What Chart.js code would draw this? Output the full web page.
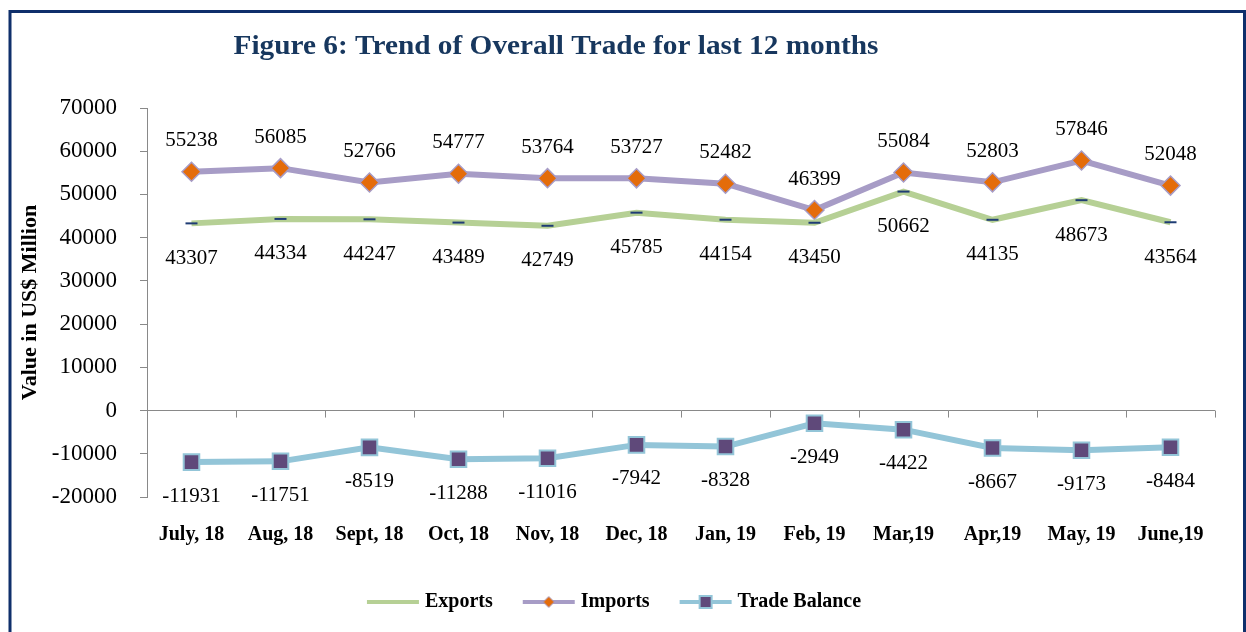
<!DOCTYPE html>
<html>
<head>
<meta charset="utf-8">
<title>Figure 6: Trend of Overall Trade for last 12 months</title>
<script src="https://cdn.jsdelivr.net/npm/chart.js@4.4.0/dist/chart.umd.min.js"></script>
<style>
    html, body { margin: 0; padding: 0; background: #fff; }
    canvas { display: block; }
</style>
</head>
<body>
<canvas id="tradeChart" width="1246" height="632"></canvas>
<script>
// Chart data
const months = ['July, 18', 'Aug, 18', 'Sept, 18', 'Oct, 18', 'Nov, 18', 'Dec, 18',
                'Jan, 19', 'Feb, 19', 'Mar,19', 'Apr,19', 'May, 19', 'June,19'];
const exportsData = [43307, 44334, 44247, 43489, 42749, 45785, 44154, 43450, 50662, 44135, 48673, 43564];
const importsData = [55238, 56085, 52766, 54777, 53764, 53727, 52482, 46399, 55084, 52803, 57846, 52048];
const balanceData = [-11931, -11751, -8519, -11288, -11016, -7942, -8328, -2949, -4422, -8667, -9173, -8484];
const yMin = -20000;
const yMax = 70000;
const yStep = 10000;

const titleText = 'Figure 6: Trend of Overall Trade for last 12 months';
const yTitleText = 'Value in US$ Million';

const SERIF = "'Liberation Serif', 'Times New Roman', serif";
const GREEN = '#b6d095';
const LAVENDER = '#a79cc6';
const ORANGE = '#e46c0a';
const SKY = '#93c5d8';
const PLUM = '#5f497a';
const NAVY = '#17375e';
const AXIS = '#898989';

// Legend swatch: a short line with the series marker in the middle
function legendSwatch(lineColor, marker) {
    const c = document.createElement('canvas');
    c.width = 56;
    c.height = 16;
    const g = c.getContext('2d');
    g.strokeStyle = lineColor;
    g.lineWidth = 4;
    g.beginPath();
    g.moveTo(2, 8);
    g.lineTo(54, 8);
    g.stroke();
    if (marker === 'diamond') {
        g.fillStyle = ORANGE;
        g.strokeStyle = LAVENDER;
        g.lineWidth = 1;
        g.beginPath();
        g.moveTo(28, 2.5);
        g.lineTo(33.5, 8);
        g.lineTo(28, 13.5);
        g.lineTo(22.5, 8);
        g.closePath();
        g.fill();
        g.stroke();
    } else if (marker === 'square') {
        g.fillStyle = PLUM;
        g.strokeStyle = SKY;
        g.lineWidth = 2;
        g.fillRect(22, 2, 12, 12);
        g.strokeRect(22, 2, 12, 12);
    }
    return c;
}

const swatches = [
    legendSwatch(GREEN, null),
    legendSwatch(LAVENDER, 'diamond'),
    legendSwatch(SKY, 'square')
];

// Frame, title and x tick marks on the zero line
const decorPlugin = {
    id: 'decor',
    beforeDraw(chart) {
        const ctx = chart.ctx;
        ctx.save();
        ctx.strokeStyle = '#0f2f6b';
        ctx.lineWidth = 3;
        ctx.strokeRect(10, 11.5, 1234.5, 800);
        ctx.fillStyle = NAVY;
        ctx.font = 'bold 27px ' + SERIF;
        ctx.textAlign = 'center';
        ctx.textBaseline = 'middle';
        // the original title runs a little wider than the font
        const w = ctx.measureText(titleText).width;
        ctx.translate(556, 47);
        ctx.scale(645 / w, 1);
        ctx.fillText(titleText, 0, 0);
        ctx.restore();
    },
    beforeDatasetsDraw(chart) {
        const ctx = chart.ctx;
        const x = chart.scales.x;
        const y0 = chart.scales.y.getPixelForValue(0);
        const band = x.width / months.length;
        ctx.save();
        ctx.strokeStyle = AXIS;
        ctx.lineWidth = 1;
        ctx.beginPath();
        for (let i = 0; i <= months.length; i++) {
            const px = Math.round(x.left + i * band) + 0.5;
            ctx.moveTo(px, y0);
            ctx.lineTo(px, y0 + 7);
        }
        ctx.stroke();
        ctx.restore();
    }
};

// Value labels next to every point
const valueLabelPlugin = {
    id: 'valueLabels',
    afterDatasetsDraw(chart) {
        const ctx = chart.ctx;
        const offsets = [35, -31, 34];
        ctx.save();
        ctx.font = '21px ' + SERIF;
        ctx.fillStyle = '#000';
        ctx.textAlign = 'center';
        ctx.textBaseline = 'middle';
        chart.data.datasets.forEach((ds, i) => {
            chart.getDatasetMeta(i).data.forEach((pt, j) => {
                ctx.fillText(String(ds.data[j]), pt.x, pt.y + offsets[i]);
            });
        });
        ctx.restore();
    }
};

const ctx = document.getElementById('tradeChart').getContext('2d');
const tradeChart = new Chart(ctx, {
    type: 'line',
    data: {
        labels: months,
        datasets: [{
            label: 'Exports',
            data: exportsData,
            borderColor: GREEN,
            borderWidth: 6,
            pointStyle: 'line',
            pointRadius: 6,
            pointBorderColor: '#1f3c74',
            pointBorderWidth: 2,
            tension: 0
        }, {
            label: 'Imports',
            data: importsData,
            borderColor: LAVENDER,
            borderWidth: 6,
            pointStyle: 'rectRot',
            pointRadius: 9.5,
            pointBackgroundColor: ORANGE,
            pointBorderColor: LAVENDER,
            pointBorderWidth: 1.5,
            tension: 0
        }, {
            label: 'Trade Balance',
            data: balanceData,
            borderColor: SKY,
            borderWidth: 6,
            pointStyle: 'rect',
            pointRadius: 11,
            pointBackgroundColor: PLUM,
            pointBorderColor: SKY,
            pointBorderWidth: 2,
            tension: 0
        }]
    },
    options: {
        responsive: false,
        animation: false,
        devicePixelRatio: 1,
        layout: {
            padding: { top: 108, left: 17, right: 31, bottom: 10 }
        },
        scales: {
            x: {
                offset: true,
                grid: { display: false, drawTicks: false },
                border: { display: false },
                ticks: {
                    autoSkip: false,
                    maxRotation: 0,
                    padding: 26,
                    color: '#000',
                    font: { family: SERIF, size: 20, weight: 'bold' }
                },
                afterFit(scale) { scale.height = 61; }
            },
            y: {
                min: yMin,
                max: yMax,
                ticks: {
                    stepSize: yStep,
                    padding: 23,
                    color: '#000',
                    font: { family: SERIF, size: 23 },
                    callback: value => String(value)
                },
                grid: {
                    color: c => (c.tick && c.tick.value === 0 ? AXIS : 'rgba(0,0,0,0)'),
                    tickColor: AXIS,
                    tickLength: 7,
                    lineWidth: 1
                },
                border: { color: AXIS, width: 1 },
                title: {
                    display: true,
                    text: yTitleText,
                    color: '#000',
                    padding: 0,
                    font: { family: SERIF, size: 22, weight: 'bold', lineHeight: 1.2 }
                },
                afterFit(scale) { scale.width = 130; }
            }
        },
        plugins: {
            title: { display: false },
            tooltip: { enabled: false },
            legend: {
                position: 'bottom',
                labels: {
                    usePointStyle: true,
                    pointStyleWidth: 44,
                    padding: 34,
                    color: '#000',
                    font: { family: SERIF, size: 20, weight: 'bold' },
                    generateLabels(chart) {
                        return chart.data.datasets.map((ds, i) => ({
                            text: ds.label,
                            pointStyle: swatches[i],
                            fillStyle: 'rgba(0,0,0,0)',
                            strokeStyle: 'rgba(0,0,0,0)',
                            lineWidth: 0,
                            hidden: !chart.isDatasetVisible(i),
                            datasetIndex: i
                        }));
                    }
                }
            }
        }
    },
    plugins: [decorPlugin, valueLabelPlugin]
});
</script>
</body>
</html>
